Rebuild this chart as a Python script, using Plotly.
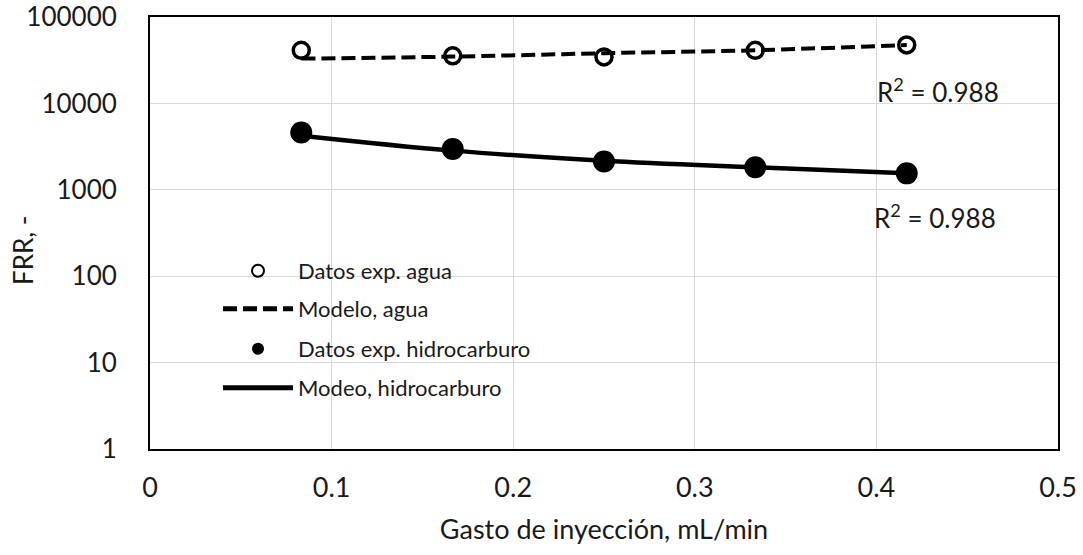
import plotly.graph_objects as go

# ---- data ----
flow = [0.0833, 0.1667, 0.25, 0.3333, 0.4167]           # Gasto de inyección, mL/min
frr_water = [41200, 35500, 34500, 41200, 47500]          # Datos exp. agua
model_water = [33000, 34800, 38100, 41200, 47500]        # Modelo, agua
frr_hc = [4610, 2970, 2130, 1820, 1550]                  # Datos exp. hidrocarburo
model_hc = [4230, 2840, 2170, 1820, 1550]                # Modeo, hidrocarburo

y_ticks = [1, 10, 100, 1000, 10000, 100000]
y_tick_labels = ["1", "10", "100", "1000", "10000", "100000"]
x_ticks = [0, 0.1, 0.2, 0.3, 0.4, 0.5]
x_tick_labels = ["0", "0.1", "0.2", "0.3", "0.4", "0.5"]
names = ["Datos exp. agua", "Modelo, agua", "Datos exp. hidrocarburo", "Modeo, hidrocarburo"]
r2_labels = ["R<sup>2</sup> = 0.988", "R<sup>2</sup> = 0.988"]

FONT = "Lato"
TXT = "#1a1a1a"

fig = go.Figure()

fig.add_trace(go.Scatter(
    x=flow, y=frr_water, mode="markers", name=names[0], legend="legend",
    marker=dict(symbol="circle-open", size=16, color="black", line=dict(width=3.5, color="black")),
))
fig.add_trace(go.Scatter(
    x=flow, y=model_water, mode="lines", name=names[1], legend="legend2",
    line=dict(color="black", width=4, dash="14px,6px", shape="spline"),
))
fig.add_trace(go.Scatter(
    x=flow, y=frr_hc, mode="markers", name=names[2], legend="legend3",
    marker=dict(symbol="circle", size=22, color="black"),
))
fig.add_trace(go.Scatter(
    x=flow, y=model_hc, mode="lines", name=names[3], legend="legend4",
    line=dict(color="black", width=4.5, shape="spline"),
))

leg_common = dict(
    xref="paper", yref="paper", x=0.0749, xanchor="left", yanchor="middle",
    bgcolor="rgba(0,0,0,0)", borderwidth=0, itemwidth=70, itemsizing="constant",
    font=dict(family=FONT, size=22, color=TXT),
)
leg_rows = [271, 309, 349, 388]
def py(px):
    return (449 - px) / 432.0

fig.update_layout(
    width=1083, height=555,
    margin=dict(l=150, r=25, t=17, b=106),
    paper_bgcolor="white", plot_bgcolor="white",
    font=dict(family=FONT, color=TXT),
    showlegend=True,
    legend=dict(leg_common, y=py(leg_rows[0])),
    legend2=dict(leg_common, y=py(leg_rows[1])),
    legend3=dict(leg_common, y=py(leg_rows[2])),
    legend4=dict(leg_common, y=py(leg_rows[3])),
    xaxis=dict(
        range=[0, 0.5], tickvals=x_ticks, ticktext=x_tick_labels, automargin=False,
        showgrid=True, gridcolor="#d9d9d9", gridwidth=1,
        showline=True, linecolor="black", linewidth=2, mirror=True,
        ticks="", ticklabelstandoff=14, zeroline=False, ticklabeloverflow="allow",
        tickfont=dict(family=FONT, size=27, color=TXT),
        title=dict(text="Gasto de inyección, mL/min", font=dict(family=FONT, size=27, color=TXT), standoff=18),
    ),
    yaxis=dict(
        type="log", range=[0, 5], tickvals=y_ticks, ticktext=y_tick_labels, automargin=False,
        showgrid=True, gridcolor="#d9d9d9", gridwidth=1,
        showline=True, linecolor="black", linewidth=2, mirror=True,
        ticks="", ticklabelstandoff=26, zeroline=False, ticklabeloverflow="allow",
        tickfont=dict(family=FONT, size=26, color=TXT),
    ),
    annotations=[
        dict(text=r2_labels[0], xref="paper", yref="paper", x=(938 - 150) / 908.0, y=py(90),
             xanchor="center", yanchor="middle",
             showarrow=False, font=dict(family=FONT, size=26, color=TXT)),
        dict(text=r2_labels[1], xref="paper", yref="paper", x=(935 - 150) / 908.0, y=py(217),
             xanchor="center", yanchor="middle",
             showarrow=False, font=dict(family=FONT, size=26, color=TXT)),
        dict(text="FRR, -", xref="paper", yref="paper", x=(23 - 150) / 908.0, y=py(250),
             xanchor="center", yanchor="middle",
             textangle=-90, showarrow=False, font=dict(family=FONT, size=26, color=TXT)),
    ],
)

fig.write_html("out.html")
